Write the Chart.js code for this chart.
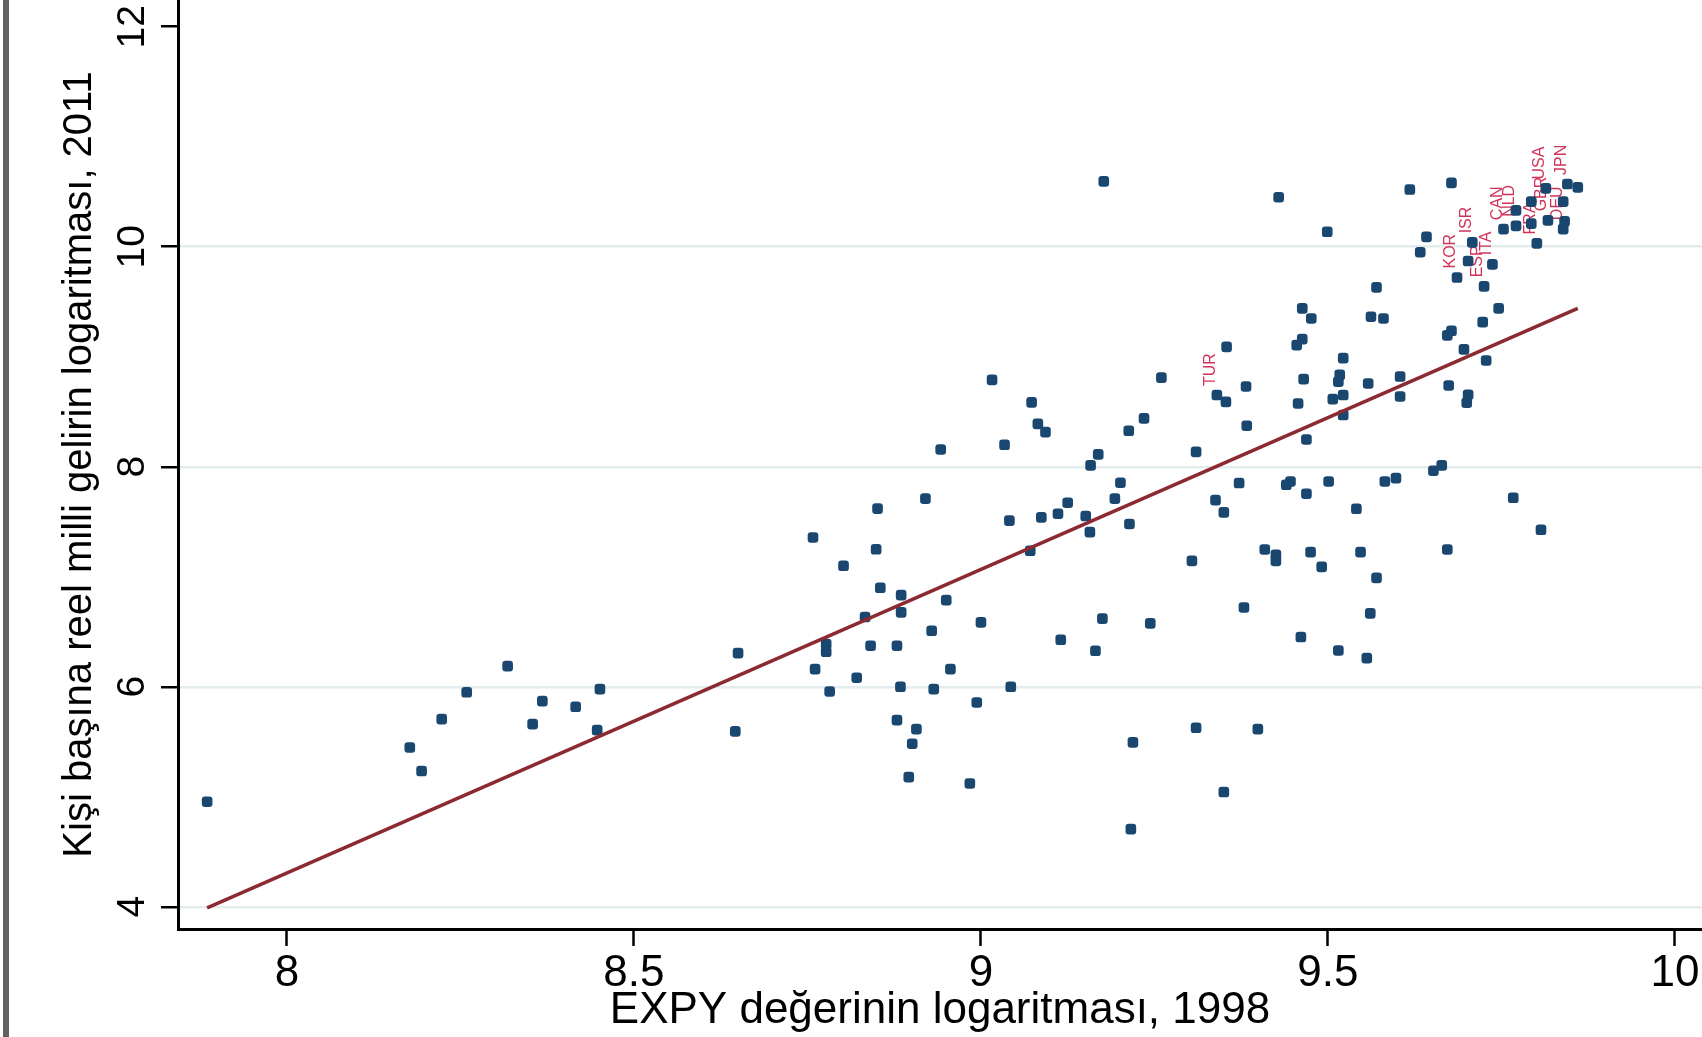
<!DOCTYPE html>
<html><head><meta charset="utf-8">
<script src="https://cdn.jsdelivr.net/npm/chart.js@4.4.1/dist/chart.umd.min.js"></script>
<style>
html,body{margin:0;padding:0;background:#fff;overflow:hidden;}
#wrap{position:relative;width:1702px;height:1037px;}
#frame{position:absolute;left:3px;top:0;width:6px;height:1037px;background:#626262;}
canvas{position:absolute;left:0;top:0;}
</style></head><body>
<div id="wrap"><canvas id="c" width="1702" height="1037"></canvas><div id="frame"></div></div>
<script>
// EXPY (log), 1998
const expy = [
 7.885,8.177,8.194,8.223,8.259,8.318,8.354,8.368,8.416,8.447,
 8.451,8.646,8.650,8.758,8.761,8.777,8.777,8.782,8.802,8.821,
 8.833,8.841,8.851,8.849,8.855,8.879,8.879,8.885,8.885,8.884,
 8.896,8.901,8.907,8.920,8.929,8.932,8.942,8.950,8.956,8.984,
 8.994,9.000,9.016,9.034,9.041,9.043,9.073,9.071,9.082,9.087,
 9.093,9.111,9.115,9.125,9.151,9.157,9.158,9.165,9.169,9.175,
 9.177,9.193,9.201,9.214,9.213,9.216,9.219,9.235,9.244,9.260,
 9.304,9.310,9.310,9.338,9.340,9.350,9.350,9.353,9.354,9.372,
 9.379,9.382,9.383,9.399,9.409,9.425,9.425,9.429,9.440,9.446,
 9.455,9.457,9.461,9.463,9.463,9.465,9.469,9.469,9.476,9.475,
 9.491,9.499,9.501,9.507,9.515,9.515,9.517,9.522,9.522,9.522,
 9.541,9.547,9.556,9.558,9.562,9.561,9.570,9.570,9.580,9.582,
 9.598,9.604,9.604,9.618,9.652,9.633,9.642,9.664,9.672,9.678,
 9.674,9.672,9.678,9.686,9.696,9.702,9.700,9.702,9.708,9.723,
 9.725,9.728,9.737,9.746,9.753,9.771,9.771,9.767,9.793,9.793,
 9.801,9.807,9.814,9.817,9.839,9.841,9.839,9.845,9.860
];
// log real national income per capita, 2011
const income = [
 4.955,5.448,5.234,5.706,5.950,6.187,5.661,5.870,5.818,5.606,
 5.979,5.594,6.306,7.357,6.160,6.388,6.318,5.957,7.100,6.082,
 6.634,6.373,7.620,7.250,6.900,6.373,5.697,6.833,6.676,6.000,
 5.179,5.482,5.615,7.710,6.509,5.979,8.157,6.788,6.160,5.121,
 5.857,6.585,8.790,8.200,7.510,6.000,8.585,7.236,8.390,7.540,
 8.315,7.573,6.427,7.673,7.552,7.406,8.012,6.327,8.112,6.620,
 10.594,7.710,7.855,7.480,8.327,4.706,5.494,8.440,6.576,8.810,
 7.145,8.135,5.627,7.697,8.652,5.043,7.585,8.590,9.090,7.852,
 6.721,8.730,8.373,5.615,7.248,7.200,7.145,10.450,7.836,7.866,
 9.106,8.575,6.452,9.440,9.160,8.797,8.248,7.755,9.348,7.224,
 7.090,10.136,7.866,8.615,8.773,6.330,8.836,8.988,8.652,8.470,
 7.618,7.224,6.261,8.757,9.364,6.667,9.630,6.990,9.348,7.866,
 7.897,8.820,8.639,10.520,7.964,9.950,10.090,8.012,9.194,9.236,
 8.739,7.248,10.580,9.720,9.067,8.655,8.582,9.870,10.040,9.315,
 9.640,8.966,9.840,9.440,10.160,10.330,10.190,7.718,10.410,10.210,
 10.030,7.427,10.530,10.240,10.410,10.230,10.160,10.570,10.540
];
// country codes shown as marker labels ('' = no label)
const codes = [
 '','','','','','','','','','',
 '','','','','','','','','','',
 '','','','','','','','','','',
 '','','','','','','','','','',
 '','','','','','','','','','',
 '','','','','','','','','','',
 '','','','','','','','','','',
 '','','','','TUR','','','','','',
 '','','','','','','','','','',
 '','','','','','','','','','',
 '','','','','','','','','','',
 '','','','','','','','','','',
 '','','','','','','','','','',
 '','','','KOR','','','','','ISR','',
 'ESP','','ITA','','CAN','','NLD','','','',
 'FRA','','USA','GBR','','','DEU','JPN',''
];
// fitted line end points
const fitX = [7.885, 9.860];
const fitY = [3.99, 9.44];
const xTickValues = [8, 8.5, 9, 9.5, 10];
const xTickLabels = ['8', '8.5', '9', '9.5', '10'];
const yTickValues = [4, 6, 8, 10, 12];
const yTickLabels = ['4', '6', '8', '10', '12'];
const xTitle = 'EXPY değerinin logaritması, 1998';
const yTitle = 'Kişi başına reel milli gelirin logaritması, 2011';

const FONT = '"Liberation Sans", Arial, Helvetica, sans-serif';
const markerColor = '#1a476f';
const lineColor = '#8c2a32';
const labelColor = '#d2325a';

const labelPlugin = {
  id: 'ptLabels',
  beforeDatasetsDraw(chart) {
    const meta = chart.getDatasetMeta(1);
    const ctx = chart.ctx;
    ctx.save();
    ctx.font = '16px ' + FONT;
    ctx.fillStyle = labelColor;
    ctx.textAlign = 'left';
    ctx.textBaseline = 'middle';
    meta.data.forEach((el, i) => {
      if (!codes[i]) return;
      ctx.save();
      ctx.translate(el.x - 6, el.y - 9);
      ctx.rotate(-Math.PI / 2);
      ctx.fillText(codes[i], 0, 0);
      ctx.restore();
    });
    ctx.restore();
  }
};

new Chart(document.getElementById('c'), {
  data: {
    datasets: [
      {
        type: 'line',
        data: fitX.map((x, i) => ({x, y: fitY[i]})),
        borderColor: lineColor,
        borderWidth: 3.5,
        pointRadius: 0,
        fill: false,
        tension: 0,
        order: 0
      },
      {
        type: 'scatter',
        data: expy.map((x, i) => ({x, y: income[i]})),
        backgroundColor: markerColor,
        borderColor: markerColor,
        borderWidth: 0,
        pointStyle: 'rectRounded',
        pointRadius: 6.2,
        order: 1
      }
    ]
  },
  options: {
    responsive: false,
    animation: false,
    devicePixelRatio: 1,
    layout: {padding: 0, autoPadding: false},
    plugins: {legend: {display: false}, tooltip: {enabled: false}},
    scales: {
      x: {
        type: 'linear',
        position: 'bottom',
        min: 7.843,
        max: 10.039,
        afterBuildTicks: s => { s.ticks = xTickValues.map(v => ({value: v})); },
        afterFit: s => { s.height = 108; s.paddingLeft = 0; s.paddingRight = 0; },
        grid: {drawOnChartArea: false, drawTicks: true, tickLength: 17, tickColor: '#000', tickWidth: 2.5},
        border: {display: true, color: '#000', width: 3},
        ticks: {
          color: '#000',
          font: {family: FONT, size: 44},
          padding: 1.5,
          maxRotation: 0,
          autoSkip: false,
          callback: v => xTickLabels[xTickValues.indexOf(v)]
        },
        title: {
          display: true,
          text: xTitle,
          color: '#000',
          font: {family: FONT, size: 44},
          padding: {top: 0, bottom: 0}
        }
      },
      y: {
        type: 'linear',
        position: 'left',
        min: 3.798,
        max: 12.243,
        afterBuildTicks: s => { s.ticks = yTickValues.map(v => ({value: v})); },
        afterFit: s => { s.width = 178; s.paddingTop = 0; s.paddingBottom = 0; },
        grid: {
          drawOnChartArea: true,
          color: c => (c.tick && c.tick.value === 12) ? 'rgba(0,0,0,0)' : '#e4eced',
          lineWidth: 2.5,
          drawTicks: true, tickLength: 17, tickColor: '#000', tickWidth: 2.5
        },
        border: {display: true, color: '#000', width: 3},
        ticks: {
          color: '#000',
          font: {family: FONT, size: 39},
          padding: 6,
          minRotation: 90,
          maxRotation: 90,
          crossAlign: 'center',
          autoSkip: false,
          callback: v => yTickLabels[yTickValues.indexOf(v)]
        },
        title: {
          display: true,
          text: yTitle,
          color: '#000',
          font: {family: FONT, size: 40},
          padding: {top: 56, bottom: 0}
        }
      }
    }
  },
  plugins: [labelPlugin]
});
</script>
</body></html>
